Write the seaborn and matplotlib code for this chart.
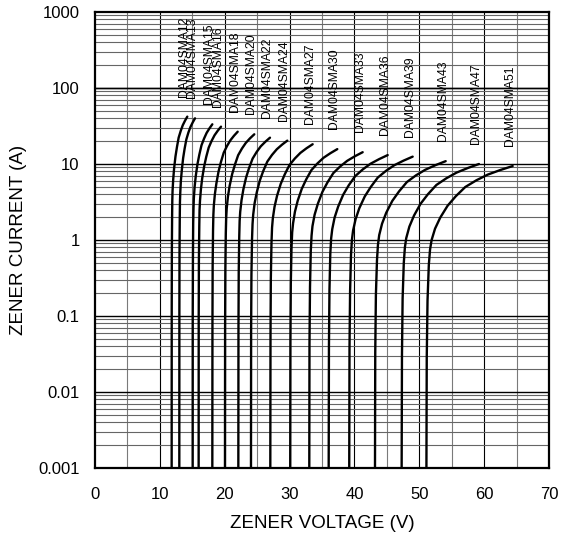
import numpy as np
import pandas as pd
import matplotlib
matplotlib.use("Agg")
import matplotlib.pyplot as plt
import seaborn as sns
from matplotlib.ticker import FixedLocator

# ---- data ----
devices = ["DAM04SMA12", "DAM04SMA13", "DAM04SMA15", "DAM04SMA16",
           "DAM04SMA18", "DAM04SMA20", "DAM04SMA22", "DAM04SMA24",
           "DAM04SMA27", "DAM04SMA30", "DAM04SMA33", "DAM04SMA36",
           "DAM04SMA39", "DAM04SMA43", "DAM04SMA47", "DAM04SMA51"]

v12 = [11.82, 11.83, 11.85, 11.89, 11.92, 11.96, 12.06, 12.20, 12.41, 12.64, 12.90, 13.22, 13.53, 13.88, 14.23]
i12 = [0.001, 0.126, 0.71, 2.1, 3.36, 4.45, 6.3, 8.82, 12.6, 16.8, 22.26, 27.3, 32.34, 37.17, 42]
v13 = [13.00, 13.01, 13.03, 13.07, 13.10, 13.15, 13.24, 13.39, 13.59, 13.82, 14.09, 14.40, 14.72, 15.07, 15.42]
i13 = [0.001, 0.12, 0.68, 2.0, 3.19, 4.23, 5.99, 8.38, 11.97, 15.96, 21.15, 25.94, 30.72, 35.31, 39.9]
v15 = [15.06, 15.07, 15.10, 15.14, 15.19, 15.24, 15.36, 15.54, 15.80, 16.09, 16.42, 16.82, 17.21, 17.65, 18.09]
i15 = [0.001, 0.1, 0.57, 1.67, 2.66, 3.53, 5.0, 6.99, 9.99, 13.32, 17.65, 21.65, 25.64, 29.47, 33.3]
v16 = [15.98, 15.99, 16.02, 16.08, 16.12, 16.19, 16.33, 16.53, 16.83, 17.15, 17.53, 17.98, 18.43, 18.93, 19.43]
i16 = [0.001, 0.093, 0.53, 1.55, 2.48, 3.29, 4.65, 6.51, 9.3, 12.4, 16.43, 20.15, 23.87, 27.44, 31]
v18 = [18.09, 18.11, 18.14, 18.20, 18.25, 18.32, 18.48, 18.72, 19.05, 19.42, 19.85, 20.36, 20.87, 21.43, 22.00]
i18 = [0.001, 0.08, 0.45, 1.33, 2.13, 2.82, 3.99, 5.59, 7.98, 10.64, 14.1, 17.29, 20.48, 23.54, 26.6]
v20 = [20.04, 20.06, 20.10, 20.17, 20.23, 20.31, 20.49, 20.76, 21.15, 21.58, 22.07, 22.66, 23.25, 23.90, 24.56]
i20 = [0.001, 0.074, 0.42, 1.23, 1.97, 2.61, 3.69, 5.17, 7.38, 9.84, 13.04, 15.99, 18.94, 21.77, 24.6]
v22 = [22.10, 22.12, 22.16, 22.24, 22.30, 22.39, 22.59, 22.88, 23.30, 23.76, 24.30, 24.93, 25.56, 26.27, 26.98]
i22 = [0.001, 0.067, 0.38, 1.11, 1.78, 2.35, 3.33, 4.66, 6.66, 8.88, 11.77, 14.43, 17.09, 19.65, 22.2]
v24 = [24.05, 24.07, 24.12, 24.21, 24.29, 24.39, 24.61, 24.95, 25.42, 25.95, 26.57, 27.30, 28.03, 28.84, 29.65]
i24 = [0.001, 0.061, 0.35, 1.02, 1.62, 2.15, 3.05, 4.26, 6.09, 8.12, 10.76, 13.2, 15.63, 17.97, 20.3]
v27 = [27.03, 27.06, 27.11, 27.21, 27.30, 27.42, 27.68, 28.07, 28.63, 29.25, 29.97, 30.82, 31.67, 32.61, 33.56]
i27 = [0.001, 0.055, 0.31, 0.91, 1.46, 1.93, 2.73, 3.82, 5.46, 7.28, 9.65, 11.83, 14.01, 16.11, 18.2]
v30 = [30.10, 30.13, 30.19, 30.30, 30.40, 30.54, 30.83, 31.26, 31.88, 32.57, 33.37, 34.31, 35.25, 36.31, 37.36]
i30 = [0.001, 0.047, 0.27, 0.79, 1.26, 1.66, 2.36, 3.3, 4.71, 6.28, 8.32, 10.2, 12.1, 13.9, 15.7]
v33 = [33.04, 33.07, 33.15, 33.27, 33.39, 33.53, 33.86, 34.36, 35.06, 35.84, 36.74, 37.81, 38.88, 40.08, 41.27]
i33 = [0.001, 0.043, 0.24, 0.72, 1.14, 1.52, 2.15, 3.0, 4.29, 5.72, 7.58, 9.3, 11.0, 12.66, 14.3]
v36 = [36.03, 36.07, 36.15, 36.28, 36.41, 36.58, 36.94, 37.49, 38.26, 39.12, 40.13, 41.31, 42.49, 43.81, 45.13]
i36 = [0.001, 0.039, 0.22, 0.66, 1.05, 1.39, 1.97, 2.75, 3.93, 5.24, 6.94, 8.52, 10.09, 11.59, 13.1]
v39 = [39.20, 39.24, 39.33, 39.47, 39.61, 39.79, 40.18, 40.76, 41.60, 42.53, 43.60, 44.87, 46.14, 47.56, 48.98]
i39 = [0.001, 0.038, 0.21, 0.63, 1.0, 1.33, 1.88, 2.63, 3.75, 5.0, 6.63, 8.13, 9.63, 11.06, 12.5]
v43 = [43.17, 43.21, 43.31, 43.48, 43.63, 43.82, 44.26, 44.91, 45.84, 46.88, 48.08, 49.49, 50.91, 52.49, 54.07]
i43 = [0.001, 0.033, 0.19, 0.55, 0.87, 1.16, 1.64, 2.29, 3.27, 4.36, 5.78, 7.09, 8.39, 9.65, 10.9]
v47 = [47.28, 47.33, 47.43, 47.61, 47.78, 47.99, 48.47, 49.19, 50.20, 51.33, 52.64, 54.19, 55.74, 57.47, 59.20]
i47 = [0.001, 0.03, 0.17, 0.5, 0.8, 1.06, 1.5, 2.1, 3.0, 4.0, 5.3, 6.5, 7.7, 8.85, 10.0]
v51 = [51.10, 51.15, 51.27, 51.47, 51.66, 51.90, 52.43, 53.23, 54.36, 55.62, 57.09, 58.81, 60.54, 62.47, 64.40]
i51 = [0.001, 0.028, 0.16, 0.47, 0.75, 1.0, 1.41, 1.97, 2.82, 3.76, 4.98, 6.11, 7.24, 8.32, 9.4]

volts = [v12, v13, v15, v16, v18, v20, v22, v24, v27, v30, v33, v36, v39, v43, v47, v51]
amps = [i12, i13, i15, i16, i18, i20, i22, i24, i27, i30, i33, i36, i39, i43, i47, i51]

x_ticks = [0, 10, 20, 30, 40, 50, 60, 70]
y_ticks = [0.001, 0.01, 0.1, 1, 10, 100, 1000]
y_tick_labels = ["0.001", "0.01", "0.1", "1", "10", "100", "1000"]

rows = []
for name, vs, cs in zip(devices, volts, amps):
    for k, (v, c) in enumerate(zip(vs, cs)):
        rows.append({"device": name, "order": k, "V": v, "I": c})
df = pd.DataFrame(rows)

# ---- plot ----
sns.set_style("white")
plt.rcParams["font.family"] = ["Liberation Sans", "DejaVu Sans"]
plt.rcParams["text.color"] = "black"
plt.rcParams["axes.labelcolor"] = "black"
plt.rcParams["xtick.color"] = "black"
plt.rcParams["ytick.color"] = "black"

fig = plt.figure(figsize=(5.61, 5.41), dpi=100)
ax = fig.add_axes([95 / 561, 1 - 468 / 541, 454 / 561, 456 / 541])

ax.set_yscale("log")
ax.set_xlim(0, 70)
ax.set_ylim(0.001, 1000)

# grid
for xv in np.arange(5, 70, 5):
    major = (xv % 10 == 0)
    ax.axvline(xv, color="black" if major else "#7a7a7a", lw=0.8, zorder=0)
for dec in range(-3, 3):
    base = 10.0 ** dec
    for m in range(2, 10):
        ax.axhline(m * base, color="#666666", lw=0.8, zorder=0)
    if dec > -3:
        ax.axhline(base, color="black", lw=1.0, zorder=0)
ax.axhline(100, color="black", lw=1.0, zorder=0)

sns.lineplot(data=df, x="V", y="I", hue="device", units="device",
             estimator=None, sort=False, palette=["black"] * len(devices),
             linewidth=1.7, legend=False, ax=ax, zorder=3)

for name, vs, cs in zip(devices, volts, amps):
    ax.annotate(name, xy=(vs[-1], cs[-1]), xytext=(-3, 20),
                textcoords="offset pixels", rotation=90,
                ha="center", va="bottom", fontsize=8.7, color="black")

ax.xaxis.set_major_locator(FixedLocator(x_ticks))
ax.yaxis.set_major_locator(FixedLocator(y_ticks))
ax.yaxis.set_minor_locator(FixedLocator([]))
ax.set_yticklabels(y_tick_labels)
ax.tick_params(axis="both", which="both", length=0, labelsize=12,
               labelcolor="black")
ax.tick_params(axis="x", pad=14)
ax.tick_params(axis="y", pad=11)

for s in ax.spines.values():
    s.set_visible(True)
    s.set_color("black")
    s.set_linewidth(1.6)
    s.set_zorder(5)

ax.set_xlabel("ZENER VOLTAGE (V)", fontsize=13.5, labelpad=9, color="black")
ax.set_ylabel("ZENER CURRENT (A)", fontsize=13.5, labelpad=8, color="black")

fig.savefig("out.png", dpi=100)
